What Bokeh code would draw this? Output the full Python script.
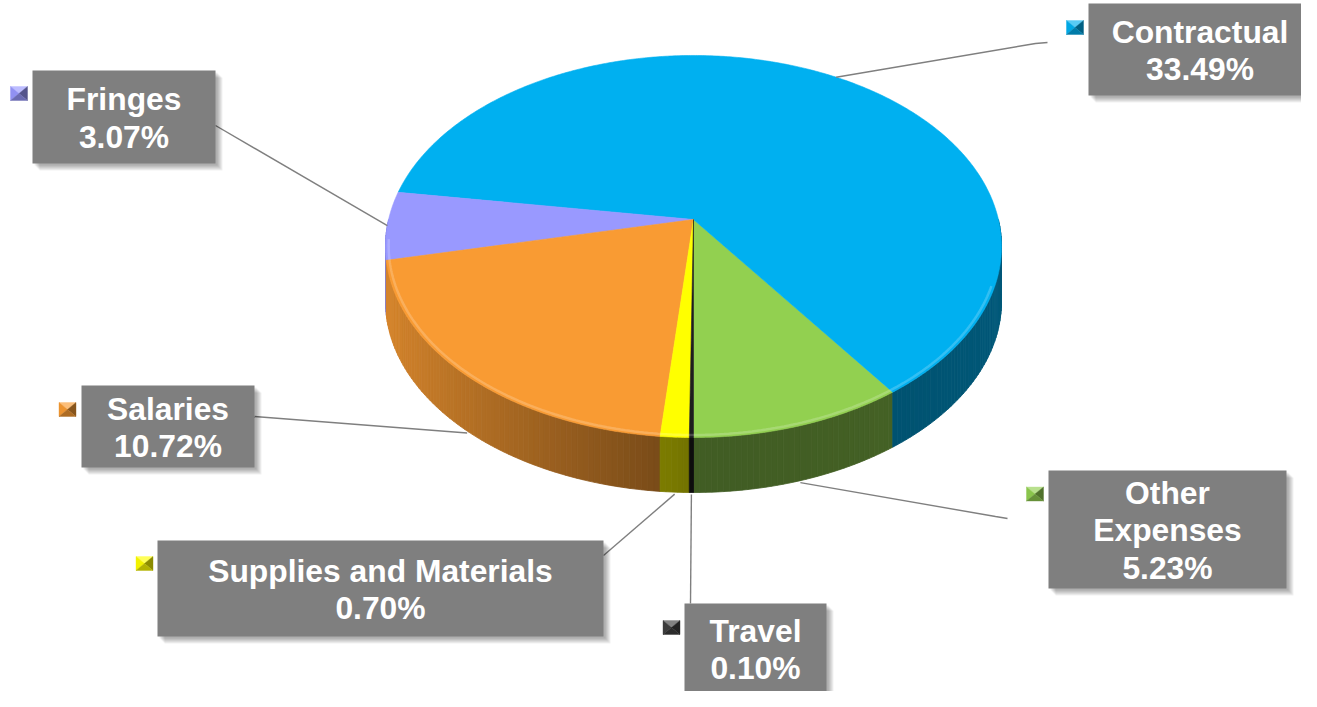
import numpy as np
from bokeh.plotting import figure
from bokeh.models import Range1d
from bokeh.core.properties import value
from bokeh.embed import file_html
from bokeh.resources import INLINE

# ---------------- data ----------------
categories = ["Other Expenses", "Contractual", "Fringes", "Salaries",
              "Supplies and Materials", "Travel"]
percents = [5.23, 33.49, 3.07, 10.72, 0.70, 0.10]
label_names = ["Other\nExpenses", "Contractual", "Fringes", "Salaries",
               "Supplies and Materials", "Travel"]
slice_colors = ["#92D050", "#00B0F0", "#9999FF", "#F99B33", "#FFFF00", "#1E1E1E"]

# ---------------- layout (pixels) ----------------
CX, CY = 693.0, 219.0       # projected centre of the pie top
RX, RY = 304.9, 187.2
PERSP = 0.1413
DEPTH = 55.0
START = 270.0               # first slice starts at 6 o'clock, counter-clockwise

box_rects = [(1048, 1286, 470, 588), (1088, 1311, 3, 95), (32, 215, 70, 163),
             (81, 254, 385, 467), (157, 603, 540, 636), (684, 826, 603, 693)]
leader_ends = [[(995, 516), (1007, 518)], [(1035, 43), (1047, 42)], [(215, 125)],
               [(254, 416)], [(603, 555)], [(690, 603)]]
marker_centers = [(1034.5, 493.5), (1074.5, 27), (18.5, 93), (67, 409),
                  (144, 563), (671, 627)]


def proj(theta_deg, scale=1.0):
    t = np.radians(np.asarray(theta_deg, dtype=float))
    u = scale * np.cos(t)
    v = -scale * np.sin(t)
    d = 1.0 - PERSP * v
    return CX + RX * u / d, CY + RY * v / d


def rgb(h):
    h = h.lstrip("#")
    return [int(h[i:i + 2], 16) for i in (0, 2, 4)]


def shade(h, f):
    return "#%02x%02x%02x" % tuple(max(0, min(255, int(c * f))) for c in rgb(h))


def lighten(h, t):
    return "#%02x%02x%02x" % tuple(int(c + (255 - c) * t) for c in rgb(h))


p = figure(width=1301, height=691, x_range=Range1d(0, 1301), y_range=Range1d(691, 0),
           output_backend="svg", toolbar_location=None, min_border=0)
p.axis.visible = False
p.grid.visible = False
p.outline_line_color = None
p.background_fill_color = "white"
p.border_fill_color = "white"

fr = np.array(percents) / np.sum(percents)
edges = START + 360.0 * np.concatenate([[0.0], np.cumsum(fr)])

# ---- side walls ----
wx, wy, wc = [], [], []
for i, col in enumerate(slice_colors):
    a0, a1 = edges[i], edges[i + 1]
    for lo, hi in [(180.0, 360.0), (540.0, 720.0)]:
        s, e = max(a0, lo), min(a1, hi)
        if e <= s:
            continue
        n = max(1, int(np.ceil(e - s)))
        ts = np.linspace(s, e, n + 1)
        x, y = proj(ts)
        for j in range(n):
            tm = ((ts[j] + ts[j + 1]) / 2.0) % 360.0
            f = (0.45 + 0.42 * max(0.0, np.cos(np.radians(tm - 180.0)))
                 + 0.06 * max(0.0, np.cos(np.radians(tm))) ** 2)
            wx.append([x[j], x[j + 1], x[j + 1], x[j]])
            wy.append([y[j], y[j + 1], y[j + 1] + DEPTH, y[j] + DEPTH])
            wc.append(shade(col, f))
p.patches(wx, wy, fill_color=wc, line_color=wc, line_width=0.8)

# ---- top faces ----
tx, ty = [], []
for i in range(len(percents)):
    a0, a1 = edges[i], edges[i + 1]
    ts = np.linspace(a0, a1, max(3, int((a1 - a0) / 0.5) + 2))
    x, y = proj(ts)
    tx.append([CX] + list(x))
    ty.append([CY] + list(y))
p.patches(tx, ty, fill_color=slice_colors, line_color=slice_colors, line_width=0.6)

# soft rim highlight on the front edge
hx, hy = proj(np.linspace(186, 340, 200), scale=0.99)
p.line(hx, hy, line_color="white", line_alpha=0.2, line_width=2.5)

# ---- leader lines ----
lx, ly = [], []
for i in range(len(percents)):
    mid = (edges[i] + edges[i + 1]) / 2.0
    x0, y0 = proj(mid)
    if -np.sin(np.radians(mid)) > 0.3:
        y0 = y0 + DEPTH + 2
    pts = [(float(x0), float(y0))] + leader_ends[i]
    lx.append([q[0] for q in pts])
    ly.append([q[1] for q in pts])
p.multi_line(lx, ly, line_color="#7f7f7f", line_width=1.4)

# ---- label boxes with soft shadow ----
L = [b[0] for b in box_rects]
R = [b[1] for b in box_rects]
T = [b[2] for b in box_rects]
B = [b[3] for b in box_rects]
for k in range(2, 8):
    p.quad(left=[l + k for l in L], right=[r + k for r in R],
           top=[t + k for t in T], bottom=[b + k for b in B],
           fill_color="black", fill_alpha=0.06, line_color=None)
p.quad(left=L, right=R, top=T, bottom=B, fill_color="#7f7f7f", line_color=None)

labels = ["%s\n%.2f%%" % (n, v) for n, v in zip(label_names, percents)]
p.text(x=[(l + r) / 2 for l, r in zip(L, R)],
       y=[(t + b) / 2 + 1 for t, b in zip(T, B)],
       text=labels, text_align="center", text_baseline="middle",
       text_font=value("Liberation Sans"), text_font_style="bold",
       text_font_size="31.8px", text_color="white", text_line_height=1.05)

# ---- bevelled colour keys ----
mx_, my_, mc_ = [], [], []
hw, hh = 8.5, 7.0
for (cx, cy), col in zip(marker_centers, slice_colors):
    base = col if col != "#1E1E1E" else "#404040"
    tl, tr = (cx - hw, cy - hh), (cx + hw, cy - hh)
    br, bl = (cx + hw, cy + hh), (cx - hw, cy + hh)
    c = (cx, cy)
    for tri, cc in [((tl, tr, c), lighten(base, 0.35)), ((tl, c, bl), shade(base, 0.95)),
                    ((tr, br, c), shade(base, 0.55)), ((bl, c, br), shade(base, 0.7))]:
        mx_.append([q[0] for q in tri])
        my_.append([q[1] for q in tri])
        mc_.append(cc)
p.patches(mx_, my_, fill_color=mc_, line_color=mc_, line_width=0.4)

open("out.html", "w").write(file_html(p, INLINE))
